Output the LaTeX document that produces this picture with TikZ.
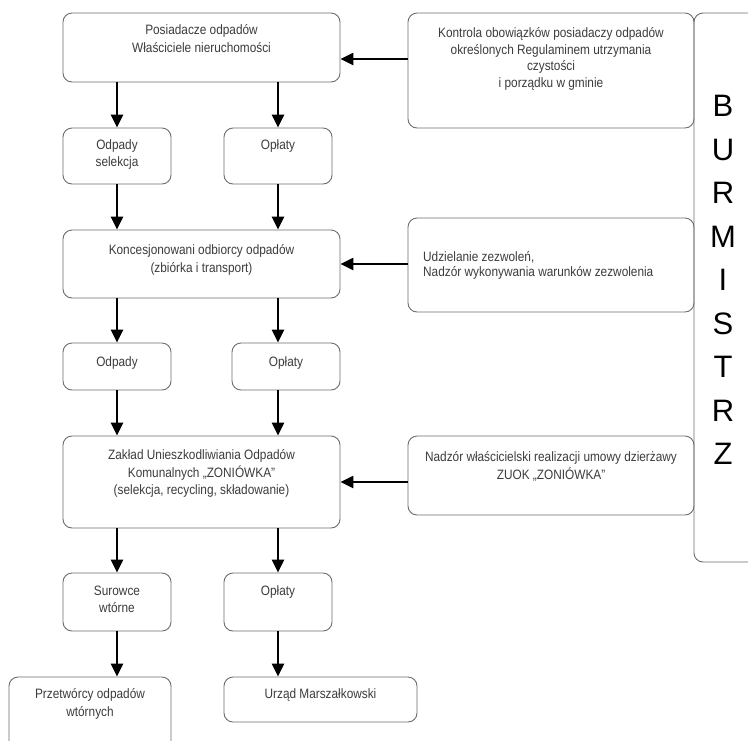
\documentclass[tikz,border=0pt]{standalone}
\usepackage{fontspec}
\setmainfont{Liberation Sans}
\newfontfamily\narrowf[FakeStretch=0.87]{Liberation Sans}
\usetikzlibrary{arrows.meta}
\definecolor{boxgray}{HTML}{6E6E6E}
\definecolor{txtgray}{HTML}{3C3C3C}
\newcommand{\tl}[3]{{\narrowf\fontsize{13.6}{#1}\selectfont\begin{tabular}[t]{@{}#2@{}}#3\end{tabular}}}
\begin{document}
\begin{tikzpicture}[x=1pt,y=-1pt,
  box/.style={draw=boxgray, line width=0.9pt, rounded corners=9pt, inner sep=0pt},
  txt/.style={anchor=base, inner sep=0pt, text=txtgray},
  arr/.style={line width=2.4pt, -{Triangle[length=13pt,width=12pt]}},
  letter/.style={font=\fontsize{31}{31}\selectfont, inner sep=0pt}]
\useasboundingbox (0,0) rectangle (748,740);
\clip (0,0) rectangle (748,740);
\fill[white] (0,0) rectangle (748,740);
% boxes
\node[box, minimum width=277pt, minimum height=69pt] (b1) at (201.5,47.5) {};
\node[box, minimum width=108pt, minimum height=56pt] (odp1) at (117,156) {};
\node[box, minimum width=108pt, minimum height=56pt] (opl1) at (278,156) {};
\node[box, minimum width=277pt, minimum height=68pt] (kon) at (201.5,264) {};
\node[box, minimum width=286pt, minimum height=115pt] (kontr) at (551,70.5) {};
\node[box, minimum width=286pt, minimum height=94pt] (udz) at (551,265) {};
\node[box, minimum width=286pt, minimum height=79pt] (nad) at (551,475.5) {};
\node[box, minimum width=108pt, minimum height=47pt] (odp2) at (117,366.5) {};
\node[box, minimum width=108pt, minimum height=47pt] (opl2) at (286,366.5) {};
\node[box, minimum width=277pt, minimum height=92pt] (zak) at (201.5,482) {};
\node[box, minimum width=108pt, minimum height=58pt] (sur) at (117,602) {};
\node[box, minimum width=108pt, minimum height=58pt] (opl3) at (278,602) {};
\node[box, minimum width=162pt, minimum height=83pt] (prz) at (90,718.5) {};
\node[box, minimum width=193pt, minimum height=45pt] (urz) at (320.5,699.5) {};
\node[box, minimum width=86pt, minimum height=549pt] (bur) at (737,287.5) {};
% texts
\node[txt] (b1t) at (201.5,34.5) {\tl{18}{c}{Posiadacze odpadów\\Właściciele nieruchomości}};
\node[txt] (odp1t) at (117,149.5) {\tl{17}{c}{Odpady\\selekcja}};
\node[txt] (opl1t) at (278,149.5) {\tl{17}{c}{Opłaty}};
\node[txt] (kont) at (201.5,254.5) {\tl{18}{c}{Koncesjonowani odbiorcy odpadów\\(zbiórka i transport)}};
\node[txt] (kontrt) at (551,37.5) {\tl{16.5}{c}{Kontrola obowiązków posiadaczy odpadów\\określonych Regulaminem utrzymania\\czystości\\i porządku w gminie}};
\node[txt, anchor=base west] (udzt) at (423,261.5) {\tl{15}{l}{Udzielanie zezwoleń,\\Nadzór wykonywania warunków zezwolenia}};
\node[txt] (nadt) at (551,461.5) {\tl{18}{c}{Nadzór właścicielski realizacji umowy dzierżawy\\ZUOK „ZONIÓWKA”}};
\node[txt] (odp2t) at (117,366.5) {\tl{17}{c}{Odpady}};
\node[txt] (opl2t) at (286,366.5) {\tl{17}{c}{Opłaty}};
\node[txt] (zakt) at (201.5,459.5) {\tl{17.5}{c}{Zakład Unieszkodliwiania Odpadów\\Komunalnych „ZONIÓWKA”\\(selekcja, recycling, składowanie)}};
\node[txt] (surt) at (117,595.5) {\tl{17}{c}{Surowce\\wtórne}};
\node[txt] (opl3t) at (278,595.5) {\tl{17}{c}{Opłaty}};
\node[txt] (przt) at (90,698.5) {\tl{18}{c}{Przetwórcy odpadów\\wtórnych}};
\node[txt] (urzt) at (320.5,698.5) {\tl{18}{c}{Urząd Marszałkowski}};
% BURMISTRZ letters
\node[letter] (L1) at (723,106) {B};
\node[letter] (L2) at (723,149.5) {U};
\node[letter] (L3) at (723,193) {R};
\node[letter] (L4) at (723,236.5) {M};
\node[letter] (L5) at (723,280) {I};
\node[letter] (L6) at (723,323.5) {S};
\node[letter] (L7) at (723,367) {T};
\node[letter] (L8) at (723,410.5) {R};
\node[letter] (L9) at (723,454) {Z};
% vertical arrows
\draw[arr] (b1.south -| odp1.north) -- (odp1.north);
\draw[arr] (b1.south -| opl1.north) -- (opl1.north);
\draw[arr] (odp1.south) -- (odp1.south |- kon.north);
\draw[arr] (opl1.south) -- (opl1.south |- kon.north);
\draw[arr] (kon.south -| odp2.north) -- (odp2.north);
\draw[arr] ([xshift=-8pt]opl2.north |- kon.south) -- ([xshift=-8pt]opl2.north);
\draw[arr] (odp2.south) -- (odp2.south |- zak.north);
\draw[arr] ([xshift=-8pt]opl2.south) -- ([xshift=-8pt]opl2.south |- zak.north);
\draw[arr] (zak.south -| sur.north) -- (sur.north);
\draw[arr] (zak.south -| opl3.north) -- (opl3.north);
\draw[arr] (sur.south) -- (sur.south |- prz.north);
\draw[arr] (opl3.south) -- (opl3.south |- urz.north);
% horizontal arrows
\draw[arr] ([yshift=11.5pt]kontr.west) -- ([yshift=11.5pt]kontr.west -| b1.east);
\draw[arr] (udz.west |- kon.east) -- (kon.east);
\draw[arr] (nad.west |- zak.east) -- (zak.east);
\end{tikzpicture}
\end{document}
